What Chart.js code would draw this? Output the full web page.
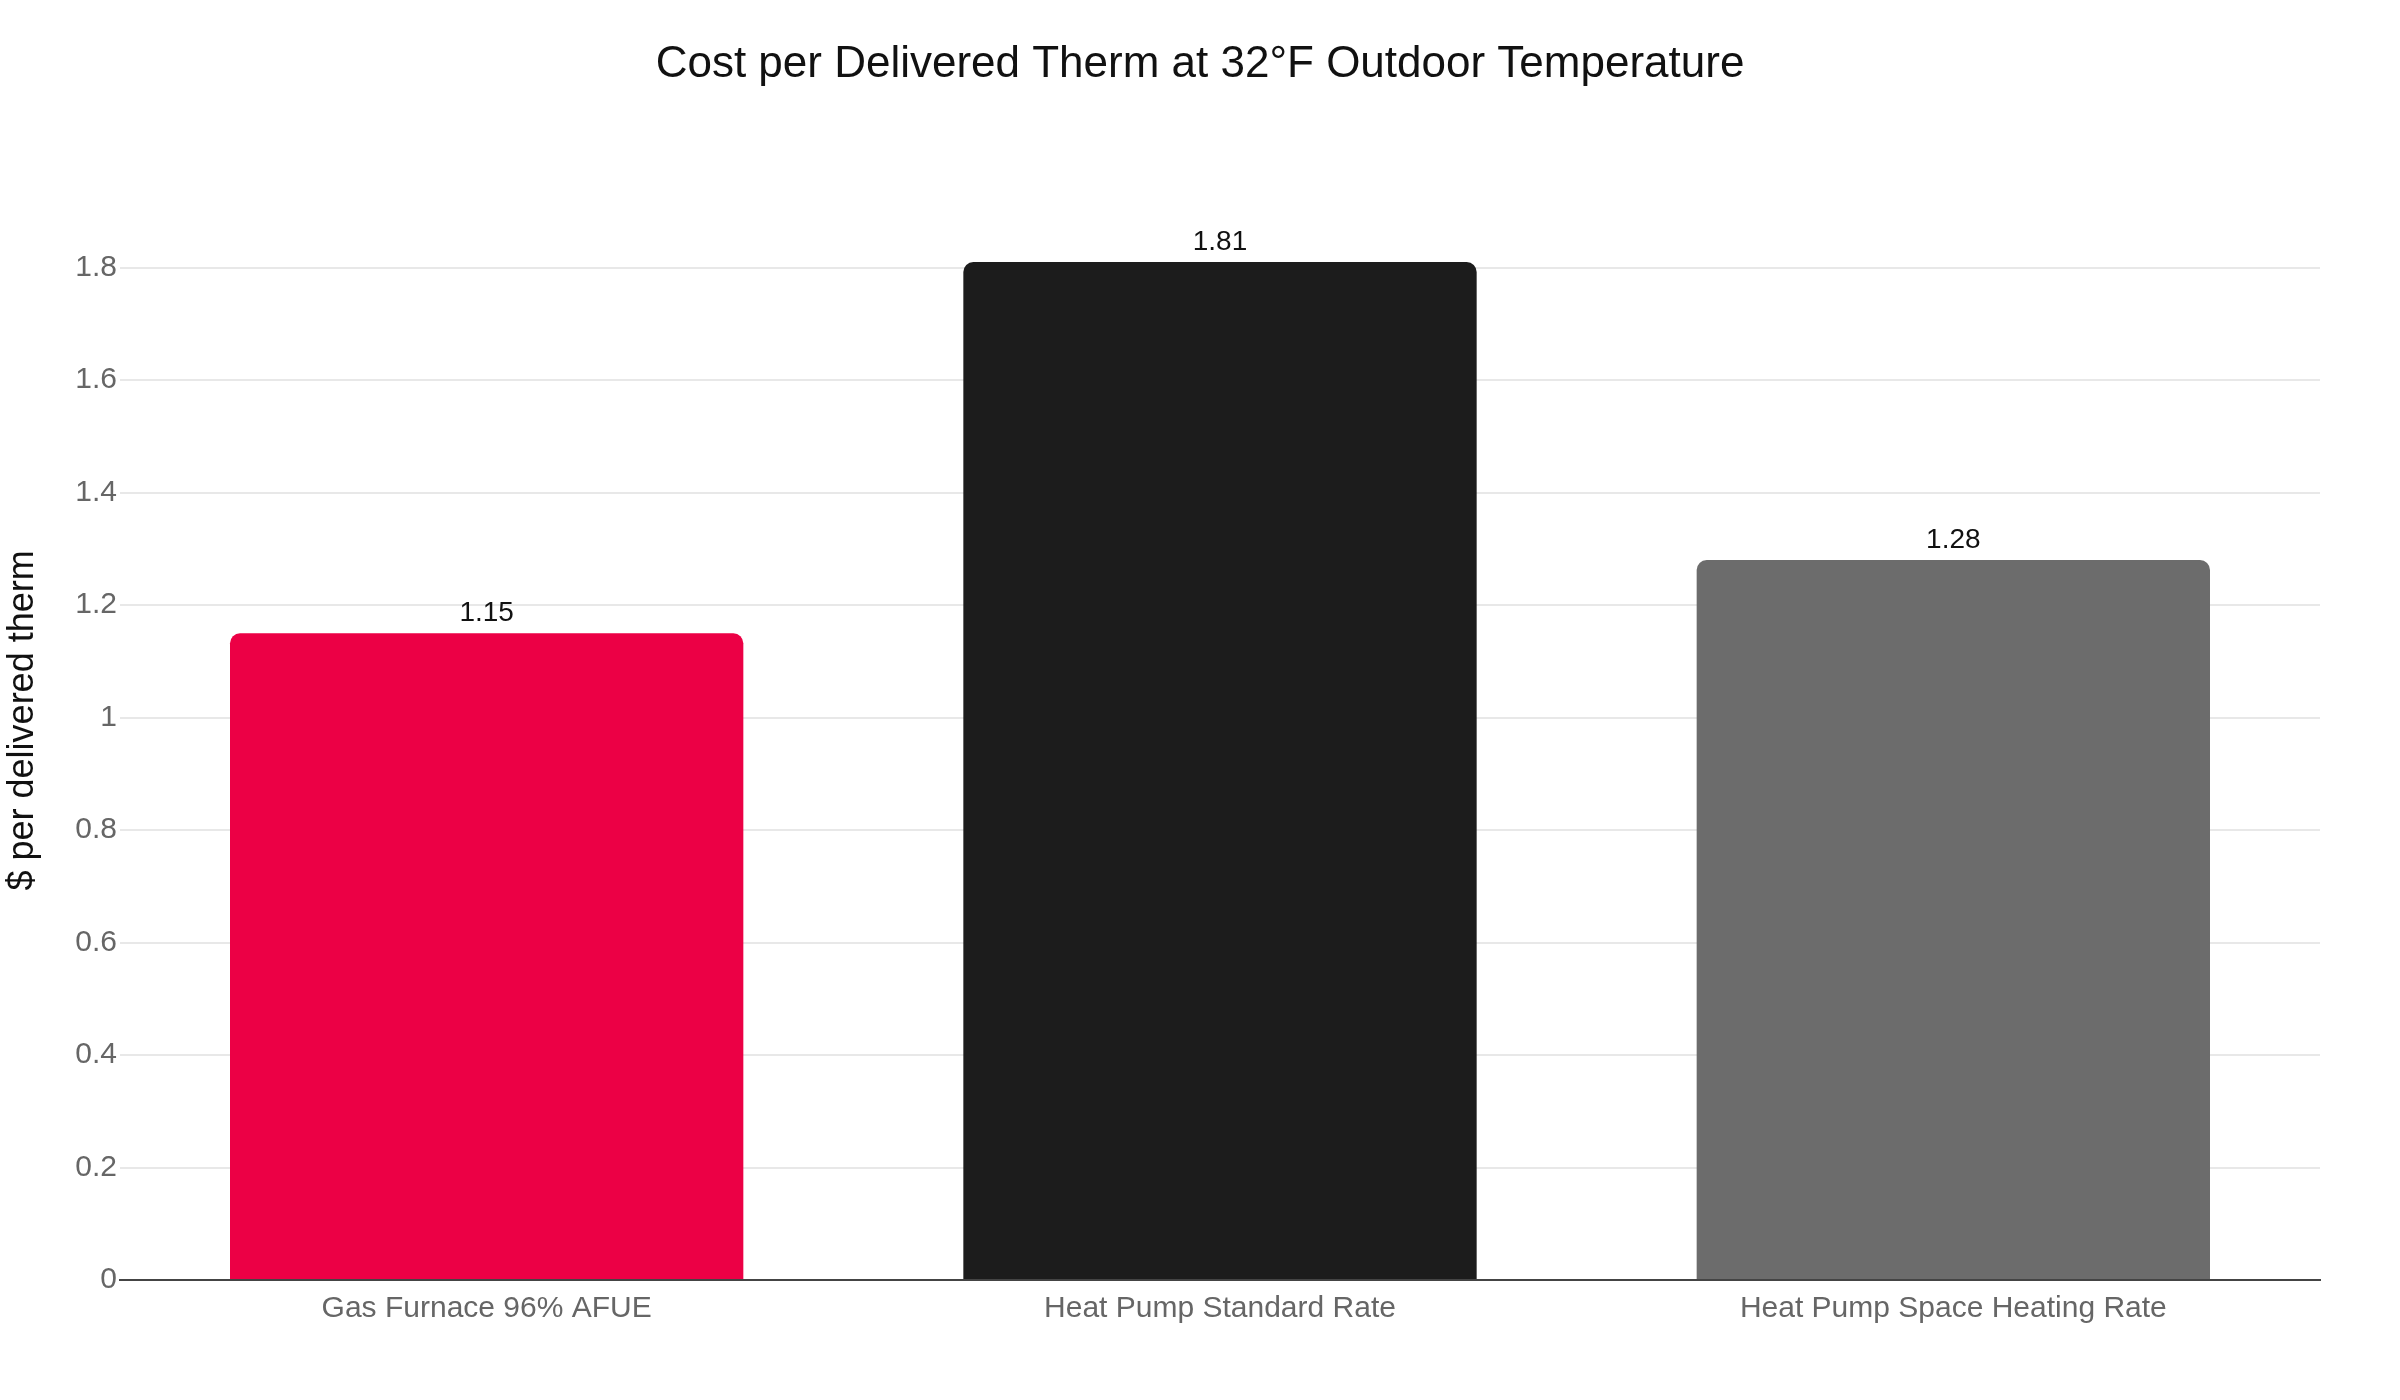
<!DOCTYPE html>
<html>
<head>
<meta charset="utf-8">
<script src="https://cdn.jsdelivr.net/npm/chart.js@4"></script>
<style>
  html, body { margin: 0; padding: 0; background: #fff; }
  #wrap { width: 2400px; height: 1400px; position: relative; }
</style>
</head>
<body>
<div id="wrap"><canvas id="myChart"></canvas></div>
<script>
const categories = ["Gas Furnace 96% AFUE", "Heat Pump Standard Rate", "Heat Pump Space Heating Rate"];
const costPerTherm = [1.15, 1.81, 1.28];
const barColors = ["#EC0045", "#1C1C1C", "#6C6C6C"];
const yTicks = [0, 0.2, 0.4, 0.6, 0.8, 1, 1.2, 1.4, 1.6, 1.8];

const fontFamily = "'Liberation Sans', Arial, Helvetica, sans-serif";

// draws the value above each bar
const valueLabels = {
  id: "valueLabels",
  afterDatasetsDraw(chart) {
    const ctx = chart.ctx;
    const meta = chart.getDatasetMeta(0);
    ctx.save();
    ctx.font = "28px " + fontFamily;
    ctx.fillStyle = "#111";
    ctx.textAlign = "center";
    ctx.textBaseline = "alphabetic";
    meta.data.forEach((bar, i) => {
      ctx.fillText(costPerTherm[i].toString(), bar.x, bar.y - 12);
    });
    ctx.restore();
  },
};

const myChart1 = document.getElementById("myChart");

var myChart = new Chart(myChart1, {
  type: "bar",
  data: {
    labels: categories,
    datasets: [
      {
        label: "$ per delivered therm",
        data: costPerTherm,
        backgroundColor: barColors,
        borderRadius: 10,
        borderSkipped: "start",
        barPercentage: 0.7,
        categoryPercentage: 1,
      },
    ],
  },
  plugins: [valueLabels],
  options: {
    responsive: true,
    maintainAspectRatio: false,
    devicePixelRatio: 1,
    animation: false,
    layout: {
      padding: 0,
    },
    plugins: {
      legend: { display: false },
      tooltip: { enabled: false },
      title: {
        display: true,
        text: "Cost per Delivered Therm at 32°F Outdoor Temperature",
        color: "#111",
        font: { family: fontFamily, size: 44, weight: "normal" },
        padding: { top: 38, bottom: 70 },
      },
    },
    scales: {
      x: {
        grid: { display: false },
        border: { display: true, color: "#444", width: 2 },
        ticks: {
          color: "#666",
          padding: 3,
          font: { family: fontFamily, size: 30 },
        },
        afterFit(axis) {
          axis.height = 120;
        },
      },
      y: {
        min: 0,
        max: 1.99,
        border: { display: false },
        grid: {
          color: "#E8E8E8",
          lineWidth: 2,
          drawTicks: false,
        },
        ticks: {
          color: "#666",
          padding: 3,
          font: { family: fontFamily, size: 30 },
          callback: (value) => String(value),
        },
        afterBuildTicks(axis) {
          axis.ticks = yTicks.map((v) => ({ value: v }));
        },
        title: {
          display: true,
          text: "$ per delivered therm",
          color: "#111",
          font: { family: fontFamily, size: 36 },
          padding: { top: 1, bottom: 0 },
        },
        afterFit(axis) {
          axis.width = 120;
        },
      },
      // empty right margin so the title stays centred on the page
      yRight: {
        type: "linear",
        position: "right",
        grid: { display: false },
        border: { display: false },
        ticks: { display: false },
        afterFit(axis) {
          axis.width = 80;
        },
      },
    },
  },
});
</script>
</body>
</html>
